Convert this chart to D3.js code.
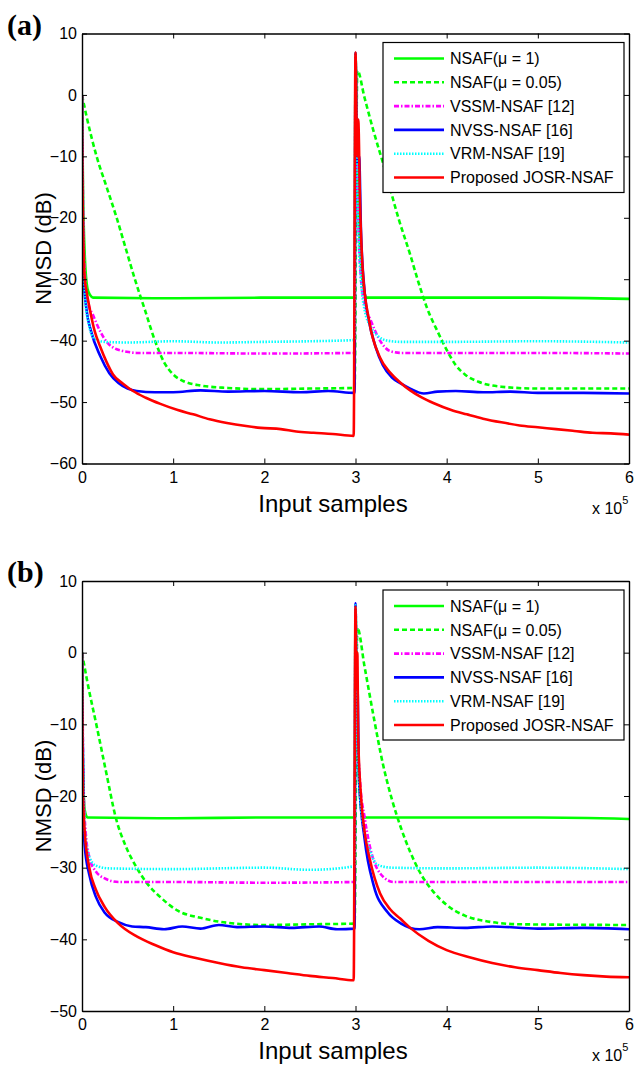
<!DOCTYPE html>
<html>
<head>
<meta charset="utf-8">
<script src="https://cdn.jsdelivr.net/npm/d3@7"></script>
<style>
  body { margin: 0; background: #fff; }
  text { font-family: "Liberation Sans", Arial, sans-serif; fill: #000; }
  .panel-tag { font-family: "Liberation Serif", "Times New Roman", serif; font-weight: bold; }
</style>
</head>
<body>
<svg id="chart" width="636" height="1067"></svg>
<script>
// DATA
var xTicks = [0, 1, 2, 3, 4, 5, 6];
var yTicksA = [10, 0, -10, -20, -30, -40, -50, -60];
var yTicksB = [10, 0, -10, -20, -30, -40, -50];
var legendLabels = ["NSAF(\u03bc = 1)", "NSAF(\u03bc = 0.05)", "VSSM-NSAF [12]", "NVSS-NSAF [16]", "VRM-NSAF [19]", "Proposed JOSR-NSAF"];

// panel (a) series, [x (x 10^5 samples), NMSD dB]
var nsaf1A = [[0,0],[0.01,-14],[0.03,-26],[0.06,-31.5],[0.09,-32.6],[0.12,-33],[1,-33.1],[2,-33],[2.99,-33],[3.0,6.5],[3.02,-12],[3.05,-25],[3.09,-31.5],[3.12,-33],[4,-33],[5,-33],[6,-33.2]];
var nsaf005A = [[0,0],[0.05,-3.5],[0.16,-10],[0.27,-15],[0.38,-20],[0.48,-25],[0.58,-30],[0.69,-35],[0.80,-40],[0.9,-43.5],[1.0,-45.5],[1.1,-46.5],[1.3,-47.3],[1.6,-47.7],[2,-47.9],[2.5,-47.8],[2.99,-47.7],[3.02,4],[3.1,-0.5],[3.2,-6],[3.3,-11],[3.48,-20.5],[3.6,-26],[3.68,-30],[3.78,-34.5],[3.9,-38.5],[4.0,-41.5],[4.1,-44],[4.2,-45.5],[4.35,-46.7],[4.6,-47.5],[5,-47.8],[6,-47.8]];
var vssmA = [[0,0],[0.01,-15],[0.02,-25],[0.04,-31],[0.07,-34],[0.12,-35.8],[0.2,-38.5],[0.27,-40.2],[0.35,-41.2],[0.49,-41.8],[0.6,-42],[1,-42],[2,-42.1],[2.99,-42],[3.0,6.8],[3.01,-5],[3.03,-20],[3.06,-30],[3.1,-34],[3.17,-36.8],[3.25,-39.5],[3.38,-41.7],[3.5,-42],[4,-42],[5,-42],[6,-42.1]];
var nvssA = [[0,0],[0.005,-15],[0.01,-22],[0.02,-30],[0.05,-35],[0.1,-38.5],[0.2,-42.5],[0.3,-45.3],[0.4,-46.9],[0.5,-47.8],[0.6,-48.2],[0.8,-48.4],[1.0,-48.4],[1.3,-48.1],[1.6,-48.3],[2.0,-48.2],[2.4,-48.4],[2.7,-48.2],[2.99,-48.5],[3.0,6.8],[3.01,-3],[3.02,-11],[3.04,-10],[3.06,-22],[3.1,-32],[3.15,-37],[3.22,-41],[3.3,-44],[3.4,-46],[3.5,-47],[3.6,-47.8],[3.75,-48.6],[3.9,-48.3],[4.1,-48.2],[4.4,-48.4],[4.7,-48.3],[5,-48.5],[5.5,-48.5],[6,-48.6]];
var vrmA = [[0,0],[0.01,-18],[0.02,-28],[0.04,-34],[0.07,-37],[0.1,-38.8],[0.15,-39.8],[0.25,-40.2],[0.5,-40.3],[1,-40.1],[1.5,-40.3],[2,-40.2],[2.5,-40.1],[2.99,-39.9],[3.0,6.8],[3.01,-5],[3.03,-20],[3.06,-30],[3.1,-35],[3.17,-37.8],[3.25,-39.3],[3.35,-40],[3.5,-40.2],[4,-40.2],[5,-40.1],[6,-40.3]];
var josrA = [[0,0],[0.003,-8],[0.006,-15],[0.012,-21],[0.02,-27],[0.03,-30],[0.05,-32],[0.09,-35.2],[0.14,-38.5],[0.2,-41],[0.27,-43.5],[0.34,-45.5],[0.45,-47],[0.56,-48.2],[0.7,-49.3],[0.86,-50.3],[1.05,-51.3],[1.22,-52],[1.4,-52.8],[1.59,-53.4],[1.8,-53.9],[1.96,-54.2],[2.18,-54.4],[2.35,-54.8],[2.54,-55],[2.75,-55.2],[2.98,-55.5],[3.0,6.9],[3.01,-3],[3.02,-10],[3.03,-4],[3.05,-17.8],[3.08,-28.7],[3.15,-36.8],[3.27,-42.8],[3.38,-45.2],[3.49,-46.8],[3.6,-48.1],[3.72,-49.2],[3.86,-50.2],[4.05,-51.3],[4.22,-52],[4.4,-52.7],[4.6,-53.3],[4.8,-53.8],[5.0,-54.1],[5.2,-54.4],[5.4,-54.7],[5.6,-55],[5.8,-55.1],[6.0,-55.3]];

// panel (b) series
var nsaf1B = [[0,0],[0.005,-10],[0.015,-18],[0.03,-22],[0.06,-23],[1,-23.1],[2,-23],[2.99,-23],[3.0,6],[3.02,-10],[3.05,-20],[3.08,-23],[4,-23],[5,-23],[6,-23.2]];
var nsaf005B = [[0,0],[0.05,-3.5],[0.17,-10.8],[0.27,-17],[0.37,-23],[0.48,-27],[0.6,-30],[0.72,-32.3],[0.85,-34],[1.05,-36],[1.3,-37],[1.6,-37.7],[2,-38],[2.5,-37.9],[2.99,-37.8],[3.02,3.5],[3.1,-2],[3.2,-9],[3.3,-15.5],[3.4,-20.5],[3.5,-24.5],[3.6,-27.8],[3.7,-30.5],[3.85,-33.3],[4.0,-35.2],[4.2,-36.7],[4.45,-37.5],[4.8,-37.9],[6,-38]];
var vssmB = [[0,0],[0.01,-12],[0.02,-20],[0.04,-25],[0.08,-28.5],[0.15,-30.5],[0.25,-31.5],[0.4,-32],[1,-32],[2,-32.1],[2.99,-32],[3.0,6.5],[3.02,-10],[3.05,-18],[3.1,-23],[3.15,-26.6],[3.27,-30.8],[3.42,-32],[4,-32],[5,-32],[6,-32]];
var nvssB = [[0,0],[0.005,-8],[0.01,-15],[0.02,-24],[0.03,-27],[0.08,-31],[0.15,-34],[0.25,-36.3],[0.4,-37.6],[0.55,-38.2],[0.7,-38.3],[0.9,-38.6],[1.1,-38.2],[1.3,-38.5],[1.5,-38],[1.7,-38.3],[2.0,-38.2],[2.3,-38.4],[2.6,-38.2],[2.8,-38.6],[2.99,-38.5],[3.0,6.9],[3.01,-8],[3.02,-4],[3.04,-18],[3.1,-26],[3.2,-32.5],[3.35,-36.2],[3.5,-37.8],[3.7,-38.6],[3.9,-38.3],[4.2,-38.4],[4.5,-38.2],[5,-38.5],[5.5,-38.4],[6,-38.6]];
var vrmB = [[0,0],[0.01,-13],[0.02,-21],[0.04,-26],[0.08,-28.5],[0.15,-29.7],[0.3,-30.1],[1,-30.2],[2,-30],[2.5,-30.3],[2.99,-29.8],[3.0,6.6],[3.02,-10],[3.05,-20],[3.1,-25],[3.17,-28],[3.24,-29.6],[3.4,-30],[4,-30.1],[5,-30],[6,-30.2]];
var josrB = [[0,0],[0.003,-6],[0.006,-13],[0.012,-20],[0.03,-25],[0.08,-30],[0.15,-33],[0.25,-35.5],[0.4,-37.8],[0.6,-39.6],[0.8,-40.8],[1.0,-41.8],[1.25,-42.6],[1.5,-43.3],[1.75,-43.9],[2.0,-44.3],[2.25,-44.7],[2.5,-45.1],[2.75,-45.4],[2.98,-45.7],[3.0,6.4],[3.01,-5],[3.02,0],[3.03,-12],[3.06,-20],[3.1,-25],[3.16,-29],[3.27,-33.6],[3.38,-35.8],[3.49,-37.1],[3.6,-38.4],[3.8,-40.2],[4.0,-41.5],[4.25,-42.5],[4.5,-43.3],[4.75,-43.9],[5.0,-44.3],[5.25,-44.7],[5.5,-45],[5.75,-45.2],[6,-45.3]];

// STYLES (one per legend entry)
var styles = [
  {color: "#00ff00", dash: null},
  {color: "#00ff00", dash: "5,3"},
  {color: "#ff00ff", dash: "5,2,1.5,2"},
  {color: "#0000ff", dash: null},
  {color: "#00ffff", dash: "1.5,1.5"},
  {color: "#ff0000", dash: null}
];

var svg = d3.select("#chart");
svg.append("rect").attr("width", 636).attr("height", 1067).attr("fill", "#fff");

function drawPanel(opt) {
  var left = 82, right = 629, top = opt.top, bottom = opt.top + 430;
  var x = d3.scaleLinear().domain([0, 6]).range([left, right]);
  var y = d3.scaleLinear().domain([opt.yTicks[opt.yTicks.length - 1], 10]).range([bottom, top]);

  var g = svg.append("g");
  var clipId = "clip" + opt.tag;
  g.append("clipPath").attr("id", clipId)
    .append("rect").attr("x", left).attr("y", top).attr("width", right - left).attr("height", bottom - top);

  var line = d3.line()
    .x(function(d) { return x(d[0]); })
    .y(function(d) { return y(d[1]); })
    .curve(d3.curveMonotoneX);

  g.append("g").attr("clip-path", "url(#" + clipId + ")")
    .selectAll("path")
    .data(opt.series)
    .enter().append("path")
    .attr("d", line)
    .attr("fill", "none")
    .attr("stroke", function(d, i) { return styles[i].color; })
    .attr("stroke-width", 2.6)
    .attr("stroke-linejoin", "round")
    .attr("stroke-dasharray", function(d, i) { return styles[i].dash; });

  // axes, MATLAB style: ticks inside, box with ticks on all sides
  var axB = g.append("g").attr("transform", "translate(0," + bottom + ")")
    .call(d3.axisBottom(x).tickValues(xTicks).tickSizeInner(-5).tickSizeOuter(0).tickPadding(8).tickFormat(d3.format("d")));
  var axT = g.append("g").attr("transform", "translate(0," + top + ")")
    .call(d3.axisTop(x).tickValues(xTicks).tickSizeInner(-5).tickSizeOuter(0).tickFormat(""));
  var axL = g.append("g").attr("transform", "translate(" + left + ",0)")
    .call(d3.axisLeft(y).tickValues(opt.yTicks).tickSizeInner(-5).tickSizeOuter(0).tickPadding(5).tickFormat(d3.format("d")));
  var axR = g.append("g").attr("transform", "translate(" + right + ",0)")
    .call(d3.axisRight(y).tickValues(opt.yTicks).tickSizeInner(-5).tickSizeOuter(0).tickFormat(""));
  [axB, axT, axL, axR].forEach(function(a) {
    a.select(".domain").attr("stroke", "#000").attr("stroke-width", 1.4);
    a.selectAll(".tick line").attr("stroke", "#000").attr("stroke-width", 1);
    a.selectAll("text").attr("font-size", 16).attr("font-family", "Liberation Sans, Arial, sans-serif");
  });

  // legend
  var lgLeft = 383, lgTop = top + 9, lgW = 241, lgH = 150;
  g.append("rect").attr("x", lgLeft).attr("y", lgTop).attr("width", lgW).attr("height", lgH)
    .attr("fill", "#fff").attr("stroke", "#000").attr("stroke-width", 1.2);
  var items = g.selectAll(".legend").data(legendLabels).enter().append("g")
    .attr("class", "legend")
    .attr("transform", function(d, i) { return "translate(" + lgLeft + "," + (top + 25 + i * 23.8) + ")"; });
  items.append("line").attr("x1", 11).attr("x2", 61).attr("y1", 0).attr("y2", 0)
    .attr("stroke", function(d, i) { return styles[i].color; })
    .attr("stroke-width", 2.6)
    .attr("stroke-dasharray", function(d, i) { return styles[i].dash; });
  items.append("text").attr("x", 67).attr("y", 0).attr("dy", "0.36em")
    .attr("font-size", 16).text(function(d) { return d; });

  // labels
  g.append("text").attr("x", 333).attr("y", bottom + 48).attr("text-anchor", "middle")
    .attr("font-size", 24).text("Input samples");
  var ex = g.append("text").attr("x", 592).attr("y", bottom + 50).attr("font-size", 16);
  ex.append("tspan").text("x 10");
  ex.append("tspan").attr("dy", -10).attr("font-size", 11).text("5");
  g.append("text").attr("transform", "translate(51," + (top + bottom) / 2 + ") rotate(-90)")
    .attr("text-anchor", "middle").attr("font-size", 22).text("NMSD (dB)");
  g.append("text").attr("class", "panel-tag").attr("x", 7).attr("y", top + 1)
    .attr("font-size", 30).text("(" + opt.tag + ")");
}

drawPanel({tag: "a", top: 33.5, yTicks: yTicksA, series: [nsaf1A, nsaf005A, vssmA, nvssA, vrmA, josrA]});
drawPanel({tag: "b", top: 581, yTicks: yTicksB, series: [nsaf1B, nsaf005B, vssmB, nvssB, vrmB, josrB]});
</script>
</body>
</html>
